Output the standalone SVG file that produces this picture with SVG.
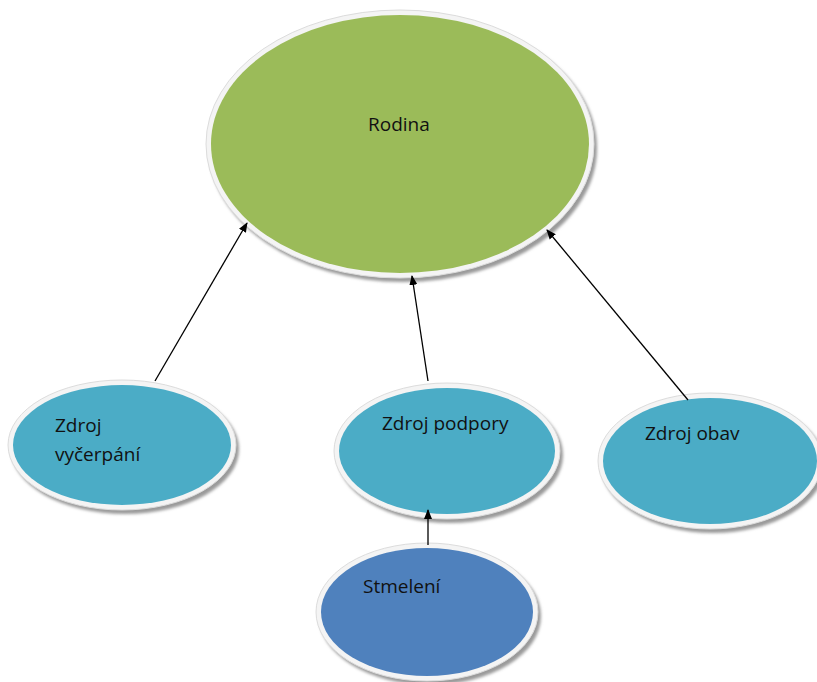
<svg xmlns="http://www.w3.org/2000/svg" width="817" height="682" viewBox="0 0 817 682">
<defs>
<filter id="sh" x="-10%" y="-10%" width="120%" height="130%"><feGaussianBlur stdDeviation="1.5"/></filter>
<marker id="ah" markerWidth="10" markerHeight="10" refX="9" refY="5" orient="auto" markerUnits="userSpaceOnUse"><path d="M0,1 L10,5 L0,9 Z" fill="#000"/></marker>
</defs>
<style>
.shadow{fill:#9a9a9a;filter:url(#sh)}
.rim{fill:#f4f4f4;stroke:#dcdcdc;stroke-width:1}
.t{font-family:"Open Sans","Noto Sans",sans-serif;font-size:19px;fill:#111}
.c{stroke:#000;stroke-width:1.3;fill:none;marker-end:url(#ah)}
</style>
<rect width="817" height="682" fill="#fff"/>
<g id="rodina">
<ellipse class="shadow" cx="403" cy="148" rx="194" ry="134"/>
<ellipse class="rim" cx="400" cy="144" rx="194" ry="134"/>
<ellipse cx="400" cy="144" rx="189" ry="129" fill="#9BBB59"/>
<text class="t" x="368" y="131">Rodina</text>
</g>
<g id="zdroj-vycerpani">
<ellipse class="shadow" cx="125" cy="449" rx="114" ry="65"/>
<ellipse class="rim" cx="122" cy="445" rx="114" ry="65"/>
<ellipse cx="122" cy="445" rx="109" ry="60" fill="#4BACC6"/>
<text class="t" x="55" y="432">Zdroj</text>
<text class="t" x="55" y="461">vyčerpání</text>
</g>
<g id="zdroj-podpory">
<ellipse class="shadow" cx="450" cy="455" rx="113" ry="68"/>
<ellipse class="rim" cx="447" cy="451" rx="113" ry="68"/>
<ellipse cx="447" cy="451" rx="108" ry="63" fill="#4BACC6"/>
<text class="t" x="382" y="430">Zdroj podpory</text>
</g>
<g id="zdroj-obav">
<ellipse class="shadow" cx="713" cy="465" rx="112" ry="68"/>
<ellipse class="rim" cx="710" cy="461" rx="112" ry="68"/>
<ellipse cx="710" cy="461" rx="107" ry="63" fill="#4BACC6"/>
<text class="t" x="645" y="440">Zdroj obav</text>
</g>
<g id="stmeleni">
<ellipse class="shadow" cx="430" cy="616" rx="111" ry="69"/>
<ellipse class="rim" cx="427" cy="612" rx="111" ry="69"/>
<ellipse cx="427" cy="612" rx="106" ry="64" fill="#4F81BD"/>
<text class="t" x="363" y="593">Stmelení</text>
</g>
<g id="connectors">
<line class="c" x1="155" y1="381" x2="247" y2="223"/>
<line class="c" x1="428" y1="381" x2="412" y2="276"/>
<line class="c" x1="688" y1="400" x2="547" y2="230"/>
<line class="c" x1="428" y1="545" x2="428" y2="510"/>
</g>
</svg>
